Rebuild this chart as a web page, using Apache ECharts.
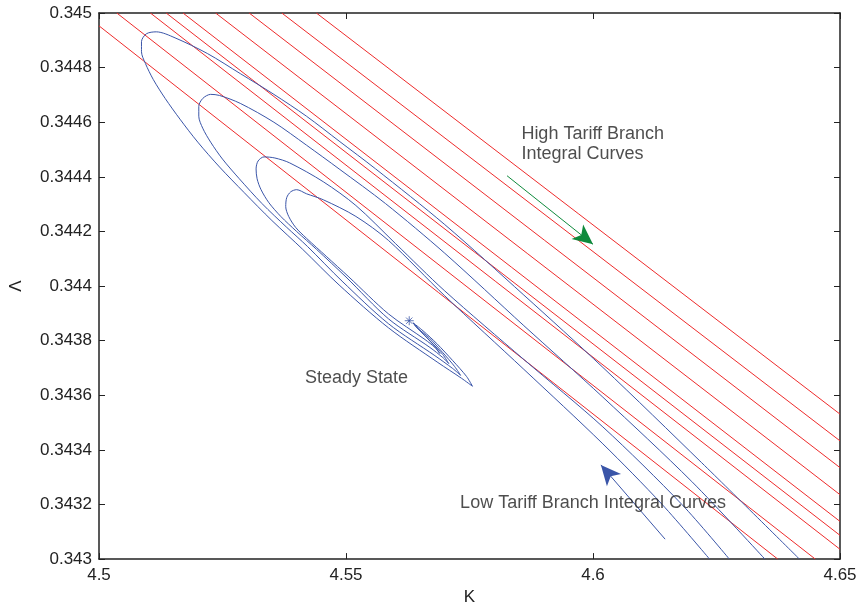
<!DOCTYPE html>
<html>
<head>
<meta charset="utf-8">
<script src="https://cdn.jsdelivr.net/npm/echarts@6/dist/echarts.min.js"></script>
<style>
  html, body { margin: 0; padding: 0; background: #fff; }
  #main { width: 860px; height: 611px; }
</style>
</head>
<body>
<div id="main"></div>
<script>
// axis ranges and ticks (K on x, Lambda on y)
const kTicks = [4.5, 4.55, 4.6, 4.65];
const lambdaTicks = [0.343, 0.3432, 0.3434, 0.3436, 0.3438, 0.344, 0.3442, 0.3444, 0.3446, 0.3448, 0.345];

// high tariff branch: straight red integral curves, [start, end] as [K, Lambda]
const highTariffLines = [
  [[4.5, 0.344953], [4.6374, 0.343]],
  [[4.5036, 0.345], [4.645, 0.343]],
  [[4.5104, 0.345], [4.65, 0.343036]],
  [[4.5136, 0.345], [4.65, 0.343087]],
  [[4.517, 0.345], [4.65, 0.343138]],
  [[4.5236, 0.345], [4.65, 0.343236]],
  [[4.5304, 0.345], [4.65, 0.343335]],
  [[4.537, 0.345], [4.65, 0.343433]],
  [[4.544, 0.345], [4.65, 0.343531]]
];

// low tariff branch: four blue integral curves spiralling into the steady state
const lowCurveA = [
  [4.6418, 0.343000], [4.622, 0.343353], [4.602, 0.343702], [4.586, 0.343967], [4.570, 0.344225],
  [4.556, 0.344429], [4.5486, 0.344531], [4.542, 0.344622], [4.5354, 0.344702], [4.5286, 0.344778],
  [4.522, 0.344851], [4.5154, 0.344909], [4.5116, 0.344931], [4.5096, 0.344924], [4.5086, 0.344895],
  [4.5086, 0.344858], [4.5094, 0.344815], [4.511, 0.344756], [4.5134, 0.344687], [4.5164, 0.344611],
  [4.520, 0.344527], [4.5244, 0.344436], [4.5294, 0.344342], [4.535, 0.344240], [4.5412, 0.344135],
  [4.5486, 0.344004], [4.5586, 0.343847], [4.5686, 0.343720], [4.5734, 0.343662], [4.5756, 0.343633],
  [4.5744, 0.343669], [4.5716, 0.343727], [4.5684, 0.343789], [4.5656, 0.343836], [4.5636, 0.343865]
];
const lowCurveB = [
  [4.6348, 0.343000], [4.620, 0.343284], [4.602, 0.343593], [4.586, 0.343855], [4.570, 0.344120],
  [4.558, 0.344302], [4.5486, 0.344429], [4.542, 0.344516], [4.5354, 0.344600], [4.5286, 0.344669],
  [4.5244, 0.344698], [4.5226, 0.344702], [4.521, 0.344687], [4.5202, 0.344658], [4.5202, 0.344622],
  [4.521, 0.344578], [4.5226, 0.344527], [4.525, 0.344465], [4.5284, 0.344393], [4.533, 0.344302],
  [4.538, 0.344215], [4.5422, 0.344145], [4.5492, 0.344018], [4.5586, 0.343862], [4.568, 0.343745],
  [4.5716, 0.343698], [4.5732, 0.343673], [4.572, 0.343705], [4.5696, 0.343756], [4.5668, 0.343811],
  [4.5644, 0.343847], [4.5636, 0.343865]
];
const lowCurveC = [
  [4.6276, 0.343000], [4.618, 0.343200], [4.602, 0.343484], [4.586, 0.343731], [4.570, 0.343982],
  [4.560, 0.344156], [4.552, 0.344295], [4.5454, 0.344382], [4.5386, 0.344451], [4.5356, 0.344469],
  [4.5334, 0.344473], [4.5322, 0.344458], [4.5318, 0.344429], [4.532, 0.344393], [4.5328, 0.344353],
  [4.5344, 0.344305], [4.5368, 0.344255], [4.540, 0.344200], [4.544, 0.344135], [4.550, 0.344033],
  [4.5586, 0.343880], [4.567, 0.343775], [4.5696, 0.343738], [4.5708, 0.343716], [4.5696, 0.343749],
  [4.5672, 0.343796], [4.5648, 0.343840], [4.5636, 0.343865]
];
const lowCurveD = [
  [4.6236, 0.343000], [4.614, 0.343200], [4.602, 0.343422], [4.586, 0.343695], [4.570, 0.343964],
  [4.5586, 0.344167], [4.552, 0.344255], [4.5454, 0.344316], [4.542, 0.344338], [4.540, 0.344353],
  [4.5388, 0.344345], [4.538, 0.344324], [4.5378, 0.344291], [4.5384, 0.344255], [4.5398, 0.344215],
  [4.542, 0.344175], [4.546, 0.344109], [4.5506, 0.344033], [4.5586, 0.343898], [4.566, 0.343804],
  [4.568, 0.343775], [4.569, 0.343753], [4.568, 0.343778], [4.566, 0.343818], [4.5644, 0.343847],
  [4.5636, 0.343865]
];

const steadyState = [4.5628, 0.343873];

// direction arrows [from, to]
const highArrow = [[4.5826, 0.344404], [4.600, 0.344153]];
const lowArrow = [[4.6146, 0.343073], [4.6016, 0.343345]];

// annotation anchors (left edge, vertical middle of text)
const notes = [
  { text: 'High Tariff Branch\nIntegral Curves', at: [4.5854, 0.344520] },
  { text: 'Low Tariff Branch Integral Curves', at: [4.573, 0.343207] },
  { text: 'Steady State', at: [4.5416, 0.343662] }
];

const RED = '#ee2b2b';
const BLUE = '#3a55a8';
const GREEN = '#0f8a3c';
const INK = '#222';
const FONT = 'Liberation Sans';

const chart = echarts.init(document.getElementById('main'));

const series = [];
highTariffLines.forEach((seg) => {
  series.push({
    type: 'line', data: seg, showSymbol: false, silent: true,
    lineStyle: { color: RED, width: 1 }, z: 2
  });
});
[lowCurveA, lowCurveB, lowCurveC, lowCurveD].forEach((curve) => {
  series.push({
    type: 'line', data: curve, showSymbol: false, silent: true, smooth: 0.3,
    lineStyle: { color: BLUE, width: 1 }, z: 3
  });
});

function arrowSeries(seg, color) {
  return {
    type: 'line', data: [], silent: true,
    markLine: {
      silent: true, animation: false,
      symbol: ['none', 'arrow'], symbolSize: [14, 20],
      lineStyle: { color: color, width: 1, type: 'solid' },
      label: { show: false },
      data: [[{ coord: seg[0] }, { coord: seg[1] }]]
    }
  };
}
series.push(arrowSeries(highArrow, GREEN));
series.push(arrowSeries(lowArrow, BLUE));

series.push({
  type: 'scatter', data: [steadyState], silent: true, z: 5,
  symbol: 'path://M0,-10L0,10M-10,0L10,0M-7,-7L7,7M-7,7L7,-7',
  symbolSize: 9,
  itemStyle: { color: 'none', borderColor: BLUE, borderWidth: 1 }
});

series.push({
  type: 'scatter', silent: true, symbolSize: 1, z: 6,
  itemStyle: { color: 'rgba(0,0,0,0)' },
  data: notes.map((n) => ({ value: n.at, label: { formatter: n.text } })),
  label: {
    show: true, position: 'right', distance: 0,
    color: INK, fontFamily: FONT, fontSize: 18, lineHeight: 20, align: 'left'
  }
});

const tickStyle = { show: true, inside: true, length: 6, lineStyle: { color: INK, width: 1 } };
const lineStyle = { show: true, onZero: false, lineStyle: { color: INK, width: 1.5 } };

chart.setOption({
  animation: false,
  backgroundColor: '#fff',
  grid: { left: 90, right: 20, top: 13, bottom: 48, containLabel: false },
  xAxis: [
    {
      type: 'value', min: kTicks[0], max: kTicks[kTicks.length - 1], interval: 0.05,
      axisLine: lineStyle, axisTick: tickStyle, splitLine: { show: false },
      axisLabel: { color: INK, fontFamily: FONT, fontSize: 17, margin: 8 },
      name: 'K', nameLocation: 'middle', nameGap: 28,
      nameTextStyle: { color: INK, fontFamily: FONT, fontSize: 17 }
    },
    {
      type: 'value', position: 'top', min: kTicks[0], max: kTicks[kTicks.length - 1], interval: 0.05,
      axisLine: lineStyle, axisTick: tickStyle, splitLine: { show: false },
      axisLabel: { show: false }
    }
  ],
  yAxis: [
    {
      type: 'value', min: lambdaTicks[0], max: lambdaTicks[lambdaTicks.length - 1], interval: 0.0002,
      axisLine: lineStyle, axisTick: tickStyle, splitLine: { show: false },
      axisLabel: { color: INK, fontFamily: FONT, fontSize: 17, margin: 7 },
      name: 'Λ', nameLocation: 'middle', nameGap: 74, nameRotate: 90,
      nameTextStyle: { color: INK, fontFamily: FONT, fontSize: 17 }
    },
    {
      type: 'value', position: 'right', min: lambdaTicks[0], max: lambdaTicks[lambdaTicks.length - 1], interval: 0.0002,
      axisLine: lineStyle, axisTick: tickStyle, splitLine: { show: false },
      axisLabel: { show: false }
    }
  ],
  series: series
});
</script>
</body>
</html>
